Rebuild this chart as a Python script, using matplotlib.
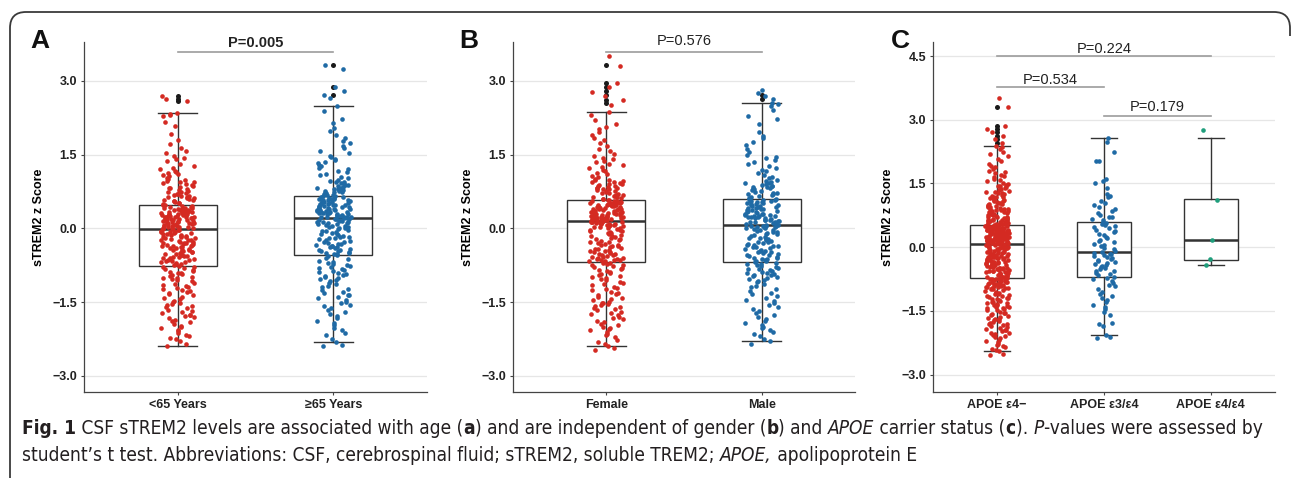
import numpy as np
import matplotlib.pyplot as plt
from matplotlib.path import Path
from matplotlib.patches import PathPatch

plt.rcParams['font.family'] = ['Liberation Sans', 'DejaVu Sans']

RED = '#d42a22'
BLUE = '#1f6aa5'
TEAL = '#1f9e7c'
DARK = '#333333'

# ---------------- panel A : age ----------------
age_labels = ['<65 Years', '\u226565 Years']
age_lt65 = [
    -2.40, -2.36, -2.30, -2.26, -2.23, -2.19, -2.17, -2.12, -2.09, -2.06, -2.03, -2.01,
    -1.98, -1.94, -1.91, -1.89, -1.86, -1.83, -1.81, -1.79, -1.77, -1.76,
    -1.73, -1.70, -1.68, -1.66, -1.63, -1.61, -1.58, -1.56, -1.53, -1.51,
    -1.49, -1.47, -1.44, -1.41, -1.39, -1.36, -1.34, -1.32, -1.29, -1.27, -1.26,
    -1.24, -1.22, -1.19, -1.17, -1.15, -1.13, -1.11, -1.08, -1.06, -1.04, -1.02, -1.01,
    -0.99, -0.97, -0.95, -0.93, -0.91, -0.90, -0.88, -0.86, -0.84, -0.82, -0.81, -0.79, -0.78, -0.76,
    -0.74, -0.73, -0.72, -0.70, -0.69, -0.68, -0.66, -0.65, -0.64, -0.63, -0.62, -0.60,
    -0.59, -0.58, -0.57, -0.56, -0.55, -0.54, -0.53, -0.52, -0.51, -0.67, -0.61,
    -0.49, -0.47, -0.47, -0.45, -0.44, -0.42, -0.41, -0.41, -0.39, -0.37, -0.36, -0.36,
    -0.34, -0.33, -0.31, -0.30, -0.30, -0.29, -0.28, -0.27, -0.26, -0.44, -0.38, -0.32, -0.48,
    -0.24, -0.23, -0.23, -0.21, -0.20, -0.19, -0.18, -0.18, -0.16, -0.15, -0.14, -0.13, -0.12,
    -0.12, -0.10, -0.09, -0.08, -0.07, -0.07, -0.05, -0.04, -0.03, -0.02, -0.02, -0.01, -0.17,
    0.00, 0.01, 0.02, 0.02, 0.04, 0.05, 0.05, 0.06, 0.08, 0.09, 0.09, 0.10, 0.11, 0.12,
    0.13, 0.13, 0.14, 0.15, 0.16, 0.17, 0.17, 0.18, 0.19, 0.20, 0.20, 0.21, 0.22, 0.22,
    0.23, 0.24, 0.24, 0.03, 0.07, 0.11, 0.15, 0.19,
    0.25, 0.25, 0.26, 0.27, 0.27, 0.28, 0.29, 0.29, 0.30, 0.31, 0.31, 0.32, 0.33, 0.33,
    0.34, 0.35, 0.35, 0.36, 0.37, 0.38, 0.38, 0.39, 0.40, 0.41, 0.41, 0.42, 0.43, 0.44,
    0.45, 0.46, 0.47, 0.48, 0.49, 0.28, 0.34,
    0.51, 0.52, 0.54, 0.55, 0.57, 0.58, 0.59, 0.61, 0.62, 0.63, 0.65, 0.66, 0.67, 0.69,
    0.70, 0.71, 0.73, 0.74, 0.56, 0.64,
    0.76, 0.78, 0.80, 0.81, 0.83, 0.85, 0.87, 0.88, 0.90, 0.92, 0.94, 0.95, 0.97, 0.99,
    1.01, 1.03, 1.06, 1.08, 1.10, 1.12, 1.15, 1.17, 1.20, 1.23,
    1.27, 1.31, 1.36, 1.40, 1.44, 1.48, 1.53, 1.58, 1.64, 1.71, 1.80, 1.91,
    2.08, 2.17, 2.28, 2.31, 2.33, 2.35, 2.58, 2.64, 2.70,
]
age_ge65 = [
    -2.39, -2.37, -2.32, -2.25, -2.18, -2.12, -2.06, -2.02,
    -1.97, -1.92, -1.88, -1.83, -1.78, -1.74, -1.70, -1.66, -1.62, -1.58, -1.55, -1.52,
    -1.49, -1.45, -1.42, -1.39, -1.35, -1.32, -1.29, -1.26, -1.23, -1.20, -1.17, -1.14,
    -1.11, -1.08, -1.05, -1.03, -1.01, -1.36,
    -0.99, -0.97, -0.95, -0.93, -0.91, -0.89, -0.87, -0.85, -0.83, -0.81, -0.79, -0.77,
    -0.75, -0.73, -0.71, -0.69, -0.66, -0.63, -0.60, -0.57,
    -0.54, -0.53, -0.52, -0.51, -0.50, -0.48, -0.47, -0.45, -0.44, -0.42,
    -0.41, -0.39, -0.38, -0.36, -0.35, -0.33, -0.31, -0.30, -0.28, -0.27,
    -0.25, -0.23, -0.22, -0.20, -0.19, -0.17, -0.15, -0.14, -0.12, -0.11,
    -0.09, -0.08, -0.06, -0.05, -0.03, -0.02, 0.00, 0.01, 0.03, 0.04,
    0.05, 0.07, 0.08, 0.09, 0.10, 0.11, 0.12, 0.13, 0.14, 0.15,
    0.16, 0.17, 0.18, 0.19, 0.19, -0.46, -0.32, -0.18, 0.02, 0.12,
    0.20, 0.21, 0.22, 0.23, 0.24, 0.25, 0.26, 0.27, 0.28, 0.29,
    0.30, 0.31, 0.31, 0.32, 0.33, 0.34, 0.35, 0.36, 0.37, 0.38,
    0.39, 0.40, 0.41, 0.42, 0.43, 0.44, 0.45, 0.46, 0.47, 0.48,
    0.49, 0.50, 0.51, 0.52, 0.53, 0.54, 0.55, 0.56, 0.57, 0.58,
    0.59, 0.60, 0.61, 0.62, 0.63, 0.64, 0.65, 0.66, 0.24, 0.29,
    0.34, 0.39, 0.44, 0.49, 0.54, 0.59, 0.22, 0.37, 0.47, 0.57,
    0.67, 0.68, 0.70, 0.71, 0.72, 0.74, 0.75, 0.76, 0.78, 0.79, 0.80, 0.82,
    0.83, 0.85, 0.86, 0.88, 0.89, 0.91, 0.92, 0.94, 0.95, 0.97, 0.98, 0.73,
    1.02, 1.05, 1.08, 1.11, 1.14, 1.17, 1.20, 1.23, 1.26, 1.29, 1.32, 1.35,
    1.38, 1.42, 1.45, 1.48,
    1.53, 1.58, 1.63, 1.68, 1.73, 1.78, 1.83, 1.90, 1.97,
    2.05, 2.15, 2.22, 2.38, 2.49,
    2.65, 2.72, 2.80, 2.87, 3.25, 3.32,
]
# whisker low, Q1, median, Q3, whisker high
age_boxes = [(-2.40, -0.77, -0.01, 0.48, 2.35), (-2.32, -0.55, 0.20, 0.66, 2.49)]
age_outliers = [[2.58, 2.64, 2.70], [3.32, 2.88, 2.72]]

# ---------------- panel B : gender ----------------
sex_labels = ['Female', 'Male']
sex_female = [
    -2.48, -2.44,
    -2.40, -2.36, -2.31, -2.27, -2.22, -2.18, -2.14, -2.11, -2.07, -2.04, -2.02, -2.00,
    -1.97, -1.94, -1.91, -1.88, -1.85, -1.82, -1.80, -1.77, -1.75, -1.72,
    -1.70, -1.67, -1.65, -1.62, -1.60, -1.58, -1.56, -1.54, -1.52, -1.51,
    -1.49, -1.46, -1.44, -1.41, -1.39, -1.36, -1.34, -1.31, -1.29, -1.26,
    -1.24, -1.21, -1.19, -1.16, -1.14, -1.11, -1.09, -1.06, -1.04, -1.02,
    -0.99, -0.97, -0.95, -0.93, -0.91, -0.89, -0.87, -0.85, -0.83, -0.81,
    -0.79, -0.77, -0.75, -0.74, -0.72, -0.71, -0.70, -0.69,
    -0.67, -0.66, -0.65, -0.64, -0.63, -0.62, -0.61, -0.60, -0.58, -0.57,
    -0.55, -0.54, -0.52, -0.51, -0.49, -0.48, -0.46, -0.45, -0.43, -0.42,
    -0.40, -0.39, -0.37, -0.36, -0.34, -0.33, -0.31, -0.30, -0.28, -0.27,
    -0.25, -0.24, -0.22, -0.21, -0.19, -0.18, -0.16, -0.15, -0.13, -0.12,
    -0.10, -0.09, -0.07, -0.06, -0.04, -0.03, -0.01, 0.00, 0.02, 0.03,
    0.04, 0.05, 0.06, 0.07, 0.08, 0.09, 0.10, 0.11, 0.12, 0.13,
    -0.64, -0.59, -0.53, -0.47, -0.05, 0.01, 0.06, 0.09, 0.11, 0.12, 0.13, 0.13,
    0.14, 0.15, 0.16, 0.16, 0.17, 0.18, 0.19, 0.20, 0.20, 0.21,
    0.22, 0.23, 0.24, 0.24, 0.25, 0.26, 0.27, 0.28, 0.28, 0.29,
    0.30, 0.31, 0.32, 0.32, 0.33, 0.34, 0.35, 0.36, 0.36, 0.37,
    0.38, 0.39, 0.40, 0.40, 0.41, 0.42, 0.43, 0.44, 0.44, 0.45,
    0.46, 0.47, 0.48, 0.48, 0.49, 0.50, 0.51, 0.52, 0.52, 0.53,
    0.54, 0.55, 0.56, 0.56, 0.57, 0.15, 0.19, 0.23, 0.27, 0.31,
    0.35, 0.39, 0.43, 0.47, 0.51, 0.55, 0.18, 0.26, 0.34, 0.42, 0.50, 0.57,
    0.59, 0.60, 0.62, 0.63, 0.64, 0.66, 0.67, 0.68, 0.70, 0.71, 0.72,
    0.74, 0.75, 0.76, 0.78, 0.79, 0.80, 0.82, 0.83, 0.84, 0.86, 0.87,
    0.88, 0.90, 0.91, 0.92, 0.94, 0.95, 0.96, 0.98, 0.99, 0.65, 0.81,
    1.01, 1.04, 1.07, 1.10, 1.13, 1.16, 1.19, 1.22, 1.25, 1.28, 1.31,
    1.34, 1.37, 1.41, 1.44, 1.48,
    1.52, 1.57, 1.62, 1.68, 1.74, 1.79, 1.84, 1.89, 1.95,
    2.02, 2.07, 2.13, 2.21, 2.30, 2.37,
    2.50, 2.60, 2.70, 2.78, 2.88, 2.95, 3.30, 3.50,
]
sex_male = [
    -2.36,
    -2.30, -2.25, -2.19, -2.14, -2.10, -2.06, -2.03, -2.01,
    -1.97, -1.92, -1.88, -1.84, -1.80, -1.76, -1.72, -1.68, -1.64, -1.60, -1.56, -1.52,
    -1.48, -1.45, -1.41, -1.38, -1.34, -1.31, -1.27, -1.24, -1.20, -1.17, -1.13, -1.10,
    -1.07, -1.05, -1.03, -1.01,
    -0.99, -0.97, -0.96, -0.94, -0.93, -0.91, -0.90, -0.88, -0.87, -0.85,
    -0.83, -0.82, -0.80, -0.78, -0.77, -0.75, -0.73, -0.72, -0.70, -0.69,
    -0.67, -0.66, -0.64, -0.63, -0.61, -0.60, -0.58, -0.57, -0.55, -0.54,
    -0.52, -0.51, -0.49, -0.47, -0.46, -0.44, -0.43, -0.41, -0.39, -0.38,
    -0.36, -0.35, -0.33, -0.31, -0.30, -0.28, -0.27, -0.25, -0.23, -0.22,
    -0.20, -0.19, -0.17, -0.15, -0.14, -0.12, -0.11, -0.09, -0.07, -0.06,
    -0.04, -0.03, -0.01, 0.00, 0.01, 0.02, 0.03, 0.04, 0.05, -0.62,
    -0.48, -0.34, -0.21, -0.08, 0.02, 0.04, 0.05,
    0.06, 0.07, 0.09, 0.09, 0.10, 0.12, 0.12, 0.13, 0.15, 0.16,
    0.17, 0.17, 0.19, 0.20, 0.21, 0.22, 0.22, 0.24, 0.25, 0.26,
    0.26, 0.28, 0.29, 0.30, 0.30, 0.32, 0.33, 0.34, 0.35, 0.35,
    0.37, 0.38, 0.39, 0.40, 0.41, 0.42, 0.43, 0.43, 0.45, 0.46,
    0.47, 0.47, 0.49, 0.50, 0.51, 0.52, 0.53, 0.54, 0.55, 0.56,
    0.56, 0.57, 0.58, 0.59, 0.60, 0.14, 0.27,
    0.62, 0.64, 0.65, 0.67, 0.69, 0.70, 0.72, 0.74, 0.75, 0.77, 0.79, 0.80,
    0.82, 0.84, 0.85, 0.87, 0.88, 0.90, 0.92, 0.93, 0.95, 0.96, 0.98, 0.71, 0.86,
    1.02, 1.05, 1.09, 1.12, 1.16, 1.19, 1.23, 1.27, 1.31, 1.35, 1.39, 1.43, 1.46, 1.49,
    1.55, 1.62, 1.70, 1.76, 1.84, 1.87, 1.95,
    2.13, 2.22, 2.28, 2.40, 2.48, 2.52, 2.55,
    2.63, 2.70, 2.76, 2.82,
]
sex_boxes = [(-2.40, -0.68, 0.14, 0.575, 2.37), (-2.30, -0.68, 0.06, 0.60, 2.55)]
sex_outliers = [[3.32, 2.95, 2.88, 2.80, 2.72, 2.62, 2.55], [2.72, 2.63]]

# ---------------- panel C : APOE ----------------
apoe_labels = ['APOE \u03b54\u2212', 'APOE \u03b53/\u03b54', 'APOE \u03b54/\u03b54']
apoe_neg = [
    -2.55, -2.52,
    -2.45, -2.42, -2.39, -2.36, -2.33, -2.30, -2.27, -2.24, -2.21, -2.18, -2.15, -2.12,
    -2.09, -2.07, -2.05, -2.03, -2.01,
    -1.98, -1.96, -1.94, -1.92, -1.90, -1.88, -1.86, -1.84, -1.82, -1.80, -1.78, -1.76,
    -1.74, -1.72, -1.70, -1.68, -1.66, -1.64, -1.62, -1.60, -1.58, -1.56, -1.54, -1.52,
    -1.49, -1.47, -1.46, -1.44, -1.43, -1.41, -1.40, -1.38, -1.37, -1.35, -1.34, -1.32,
    -1.31, -1.29, -1.28, -1.26, -1.25, -1.23, -1.22, -1.20, -1.19, -1.17, -1.16, -1.14,
    -1.13, -1.11, -1.10, -1.08, -1.07, -1.05, -1.04, -1.02,
    -0.99, -0.98, -0.97, -0.96, -0.95, -0.94, -0.93, -0.92, -0.91, -0.90, -0.89, -0.88,
    -0.87, -0.86, -0.85, -0.84, -0.83, -0.82, -0.81, -0.80, -0.79, -0.78, -0.77, -0.76,
    -0.75, -0.74, -0.93, -0.87, -0.81, -0.76,
    -0.73, -0.72, -0.70, -0.70, -0.69, -0.67, -0.66, -0.66, -0.64, -0.63, -0.62, -0.61,
    -0.59, -0.58, -0.58, -0.56, -0.55, -0.54, -0.53, -0.51, -0.50, -0.50, -0.48, -0.47,
    -0.46, -0.45, -0.43, -0.42, -0.42, -0.40, -0.39, -0.38, -0.37, -0.35, -0.34, -0.34,
    -0.32, -0.31, -0.30, -0.29, -0.27, -0.26, -0.26, -0.24, -0.23, -0.22, -0.21, -0.19,
    -0.18, -0.18, -0.16, -0.15, -0.14, -0.13, -0.11, -0.10, -0.10, -0.08, -0.07, -0.06,
    -0.05, -0.03, -0.02, -0.02, 0.00, 0.01, 0.02, 0.03, 0.05, 0.06, 0.06,
    -0.71, -0.65, -0.57, -0.52, -0.44, -0.39, -0.33, -0.28, -0.20, -0.16,
    -0.12, -0.04, -0.01, 0.01, 0.04, 0.05, -0.61, -0.48, -0.36, -0.25, -0.13, 0.03,
    0.07, 0.08, 0.08, 0.09, 0.10, 0.11, 0.11, 0.12, 0.13, 0.14,
    0.14, 0.15, 0.16, 0.17, 0.17, 0.18, 0.19, 0.20, 0.20, 0.21,
    0.22, 0.23, 0.23, 0.24, 0.25, 0.26, 0.26, 0.27, 0.28, 0.29,
    0.29, 0.30, 0.31, 0.32, 0.32, 0.33, 0.34, 0.35, 0.35, 0.36,
    0.37, 0.38, 0.38, 0.39, 0.40, 0.41, 0.41, 0.42, 0.43, 0.44,
    0.44, 0.45, 0.46, 0.47, 0.47, 0.48, 0.49, 0.50, 0.50, 0.51,
    0.09, 0.12, 0.15, 0.18, 0.21, 0.24, 0.27, 0.30, 0.33, 0.36,
    0.39, 0.42, 0.45, 0.48, 0.51, 0.10, 0.13, 0.16, 0.19, 0.22,
    0.25, 0.28, 0.31, 0.34, 0.37, 0.40, 0.43, 0.46, 0.49, 0.52,
    0.11, 0.17, 0.23, 0.29, 0.35, 0.41, 0.47, 0.20, 0.32, 0.44,
    0.26, 0.38, 0.14, 0.31, 0.45,
    0.53, 0.54, 0.55, 0.56, 0.57, 0.58, 0.59, 0.60, 0.61, 0.62,
    0.63, 0.64, 0.65, 0.66, 0.67, 0.68, 0.69, 0.70, 0.72, 0.73,
    0.75, 0.76, 0.78, 0.79, 0.81, 0.82, 0.84, 0.85, 0.87, 0.88,
    0.90, 0.91, 0.93, 0.94, 0.96, 0.97, 0.99, 0.55, 0.60, 0.65,
    0.71, 0.77, 0.83, 0.89, 0.95,
    1.01, 1.02, 1.04, 1.05, 1.07, 1.09, 1.10, 1.12, 1.14, 1.15,
    1.17, 1.19, 1.21, 1.23, 1.25, 1.27, 1.29, 1.31, 1.33, 1.35,
    1.37, 1.39, 1.41, 1.43, 1.45, 1.47, 1.49, 1.08, 1.18, 1.28,
    1.52, 1.55, 1.58, 1.61, 1.64, 1.67, 1.71, 1.74, 1.77, 1.80, 1.84, 1.88, 1.92, 1.96,
    2.03, 2.08, 2.14, 2.19, 2.25, 2.30, 2.35, 2.38,
    2.45, 2.55, 2.62, 2.70, 2.78, 2.85, 3.30, 3.50,
]
apoe_e3e4 = [
    -2.14, -2.11, -2.06, -1.85, -1.80, -1.78, -1.60, -1.52, -1.45, -1.40, -1.35, -1.30,
    -1.25, -1.20, -1.15, -1.10, -1.05, -0.98, -0.92, -0.88, -0.84, -0.80, -0.76, -0.72,
    -0.70, -0.66, -0.63, -0.60, -0.57, -0.55, -0.52, -0.50, -0.47, -0.45, -0.42, -0.40,
    -0.37, -0.35, -0.33, -0.30, -0.28, -0.26, -0.23, -0.21, -0.19, -0.17, -0.15, -0.13,
    -0.12, -0.08, -0.05, -0.02, 0.02, 0.05, 0.08, 0.12, 0.15, 0.18, 0.22, 0.25,
    0.28, 0.32, 0.35, 0.38, 0.41, 0.44, 0.47, 0.50, 0.52, 0.55, 0.57, 0.59,
    0.63, 0.66, 0.70, 0.75, 0.80, 0.86, 0.90, 0.95, 1.00, 1.03, 1.08, 1.18,
    1.20, 1.25, 1.40, 1.50, 1.55, 1.60, 2.02, 2.03, 2.25, 2.48, 2.58, 0.72,
]
apoe_e4e4 = [2.75, 1.10, 0.17, -0.28, -0.42]
apoe_boxes = [(-2.45, -0.73, 0.07, 0.52, 2.38), (-2.06, -0.71, -0.125, 0.60, 2.58),
              (-0.415, -0.31, 0.17, 1.125, 2.58)]
apoe_outliers = [[3.30, 2.85, 2.78, 2.70, 2.62, 2.55, 2.45], [], []]


def jitter(n):
    # deterministic horizontal spread for the dots
    i = np.arange(n)
    return (np.sin(i * 12.9898 + 78.233) * 43758.5453) % 1.0 - 0.5


def draw_panel(ax, labels, groups, boxes, outliers, colors, ylim, yticks):
    pos = np.arange(1, len(labels) + 1)
    stats = [dict(whislo=b[0], q1=b[1], med=b[2], q3=b[3], whishi=b[4], fliers=[])
             for b in boxes]
    ax.bxp(stats, positions=pos, widths=0.5, capwidths=0.25, patch_artist=True,
           showfliers=False,
           boxprops=dict(facecolor='white', edgecolor=DARK, lw=1.0),
           medianprops=dict(color=DARK, lw=1.8),
           whiskerprops=dict(color=DARK, lw=1.0),
           capprops=dict(color=DARK, lw=1.0), zorder=2)
    for p, vals, out, c in zip(pos, groups, outliers, colors):
        ax.scatter(np.full(len(out), p), out, s=13, color='#1a1a1a', lw=0, zorder=3)
        vals = np.asarray(vals)
        ax.scatter(p + 0.22 * jitter(len(vals)), vals, s=11, color=c, lw=0, zorder=4)

    ax.set_xlim(0.4, len(labels) + 0.6)
    ax.set_ylim(*ylim)
    ax.set_xticks(pos)
    ax.set_xticklabels(labels, fontsize=9, fontweight='bold', color='#222222')
    ax.set_yticks(yticks)
    ax.set_yticklabels([f'{t:.1f}'.replace('-', '\u2212') for t in yticks],
                       fontsize=9, fontweight='bold', color='#222222')
    ax.set_ylabel('sTREM2 z Score', fontsize=9, fontweight='bold', labelpad=5)
    ax.yaxis.grid(True, color='#e6e6e6', lw=0.9)
    ax.set_axisbelow(True)
    for side in ['top', 'right']:
        ax.spines[side].set_visible(False)
    for side in ['left', 'bottom']:
        ax.spines[side].set_color('#444444')
        ax.spines[side].set_linewidth(0.9)
    ax.tick_params(length=2.5, width=0.8, color='#444444', pad=2.5)


def p_bar(ax, x1, x2, y, label, ty, bold=False):
    ax.plot([x1, x2], [y, y], color='#9c9c9c', lw=1.2, clip_on=False, zorder=5)
    ax.text((x1 + x2) / 2, ty, label, ha='center', va='center', fontsize=10.5,
            fontweight='bold' if bold else 'normal', color='#222222', clip_on=False)


fig = plt.figure(figsize=(12.92, 4.78), dpi=100)
W, H = 1292, 478


def px_axes(x0, x1, y0, y1):
    return fig.add_axes([x0 / W, 1 - y1 / H, (x1 - x0) / W, (y1 - y0) / H])


axA = px_axes(84, 427, 42, 392)
axB = px_axes(513, 855, 42, 392)
axC = px_axes(933, 1275, 42, 392)

ticks_ab = [-3.0, -1.5, 0.0, 1.5, 3.0]
draw_panel(axA, age_labels, [age_lt65, age_ge65], age_boxes, age_outliers,
           [RED, BLUE], (-3.33, 3.79), ticks_ab)
p_bar(axA, 1, 2, 3.58, 'P=0.005', 3.77, bold=True)

draw_panel(axB, sex_labels, [sex_female, sex_male], sex_boxes, sex_outliers,
           [RED, BLUE], (-3.33, 3.79), ticks_ab)
p_bar(axB, 1, 2, 3.58, 'P=0.576', 3.81)

draw_panel(axC, apoe_labels, [apoe_neg, apoe_e3e4, apoe_e4e4], apoe_boxes, apoe_outliers,
           [RED, BLUE, TEAL], (-3.41, 4.83), [-3.0, -1.5, 0.0, 1.5, 3.0, 4.5])
p_bar(axC, 1, 3, 4.50, 'P=0.224', 4.67)
p_bar(axC, 1, 2, 3.76, 'P=0.534', 3.93)
p_bar(axC, 2, 3, 3.08, 'P=0.179', 3.29)

# overlay in pixel coordinates for letters, frame and caption
cap = fig.add_axes([0, 0, 1, 1], zorder=-1)
cap.set_xlim(0, W)
cap.set_ylim(H, 0)
cap.axis('off')

for letter, x in [('A', 30), ('B', 459), ('C', 891)]:
    cap.text(x, 41, letter, fontsize=19, fontweight='bold', va='center', ha='left',
             color='#111111')

r = 16
verts = [(10, H), (10, 12 + r), (10, 12), (10 + r, 12), (W - 2 - r, 12), (W - 2, 12),
         (W - 2, 12 + r), (W - 2, 36)]
codes = [Path.MOVETO, Path.LINETO, Path.CURVE3, Path.CURVE3, Path.LINETO, Path.CURVE3,
         Path.CURVE3, Path.LINETO]
cap.add_patch(PathPatch(Path(verts, codes), fill=False, edgecolor='#3a3a3a', lw=1.3))

line1 = [('Fig. 1', 'b'), (' CSF sTREM2 levels are associated with age (', 'n'), ('a', 'b'),
         (') and are independent of gender (', 'n'), ('b', 'b'), (') and ', 'n'),
         ('APOE', 'i'), (' carrier status (', 'n'), ('c', 'b'), ('). ', 'n'), ('P', 'i'),
         ('-values were assessed by', 'n')]
line2 = [('student\u2019s t test. Abbreviations: CSF, cerebrospinal fluid; sTREM2, soluble TREM2; ', 'n'),
         ('APOE,', 'i'), (' apolipoprotein E', 'n')]


def caption_line(y, parts, size):
    texts = []
    for s, kind in parts:
        kw = dict(fontsize=size, color='#231f20', va='baseline', ha='left',
                  family='DejaVu Sans', fontstretch='condensed',
                  fontweight='bold' if kind == 'b' else 'normal',
                  fontstyle='italic' if kind == 'i' else 'normal')
        if not texts:
            texts.append(cap.text(22, y, s, **kw))
        else:
            texts.append(cap.annotate(s, xy=(1, y), xycoords=(texts[-1], 'data'), **kw))
    return texts


cap_size = 13
t1 = caption_line(434, line1, cap_size)
t2 = caption_line(461, line2, cap_size)

# shrink the caption so the first line ends where the reference line ends
fig.canvas.draw()
right = t1[-1].get_window_extent().x1
scale = (1262 - 22) / (right - 22)
for t in t1 + t2:
    t.set_fontsize(cap_size * scale)

fig.savefig('out.png', dpi=100)
